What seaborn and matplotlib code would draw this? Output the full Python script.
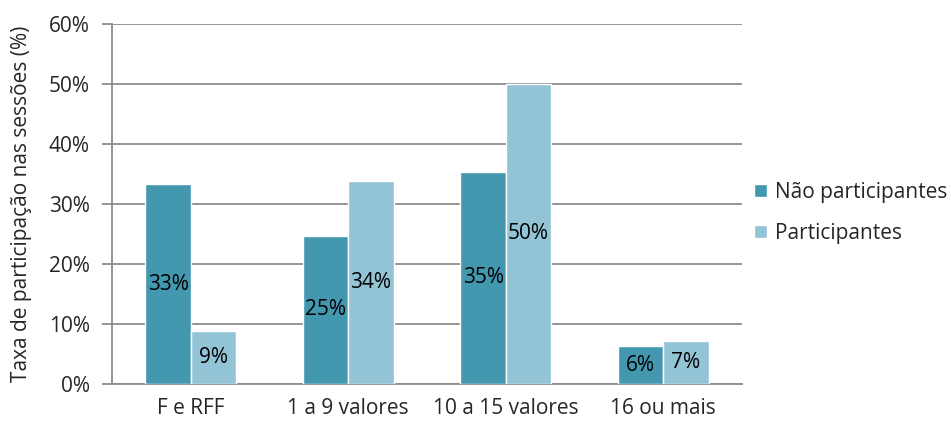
import pandas as pd
import seaborn as sns
import matplotlib.pyplot as plt
from matplotlib.ticker import FuncFormatter, FixedLocator

categories = ['F e RFF', '1 a 9 valores', '10 a 15 valores', '16 ou mais']
nao_participantes = [33.3, 24.7, 35.4, 6.3]
participantes = [8.8, 33.8, 50.0, 7.2]
series_names = ['Não participantes', 'Participantes']

df = pd.DataFrame({
    'categoria': categories * 2,
    'grupo': [series_names[0]] * 4 + [series_names[1]] * 4,
    'taxa': nao_participantes + participantes,
})

sns.set_style('white')
plt.rcParams['font.family'] = ['Open Sans', 'DejaVu Sans']
fs = 15

grid_color = '#8c8c8c'
fig = plt.figure(figsize=(9.51, 4.25), dpi=100)
ax = fig.add_axes([0.1178, 0.0965, 0.6624, 0.847])

palette = {series_names[0]: '#4398b0', series_names[1]: '#93c4d6'}
sns.barplot(data=df, x='categoria', y='taxa', hue='grupo', palette=palette,
            width=0.575, edgecolor='white', linewidth=1, saturation=1,
            ax=ax, zorder=3)

for container in ax.containers:
    labels = [f'{v:.0f}%' for v in container.datavalues]
    ax.bar_label(container, labels=labels, label_type='center', fontsize=fs, color='black')

ax.set_ylim(0, 60)
ax.set_xlim(-0.5, 3.5)
ax.set_yticks(range(0, 61, 10))
ax.yaxis.set_major_formatter(FuncFormatter(lambda v, p: f'{v:.0f}%'))
ax.grid(axis='y', color=grid_color, linewidth=1.3, zorder=0)
ax.set_axisbelow(True)

ax.xaxis.set_minor_locator(FixedLocator([-0.5, 0.5, 1.5, 2.5, 3.5]))
ax.tick_params(axis='x', which='major', length=0, labelsize=fs, pad=10)
ax.tick_params(axis='x', which='minor', length=7, width=1.3, color=grid_color, direction='out')
ax.tick_params(axis='y', length=7, width=1.3, color=grid_color, direction='out', labelsize=fs, pad=9)
ax.tick_params(axis='both', bottom=True, left=True)
ax.tick_params(axis='x', which='major', bottom=False)

for side in ['top', 'right']:
    ax.spines[side].set_visible(False)
for side in ['left', 'bottom']:
    ax.spines[side].set_color(grid_color)
    ax.spines[side].set_linewidth(1.3)

ax.set_xlabel('')
ax.set_ylabel('Taxa de participação nas sessões (%)', fontsize=fs, labelpad=12)

leg = ax.legend(loc='center left', bbox_to_anchor=(0.99, 0.475), frameon=False,
                fontsize=fs, handlelength=0.6, handleheight=0.6, handletextpad=0.4,
                labelspacing=0.95)

fig.savefig('out.png', dpi=100)
plt.close(fig)
